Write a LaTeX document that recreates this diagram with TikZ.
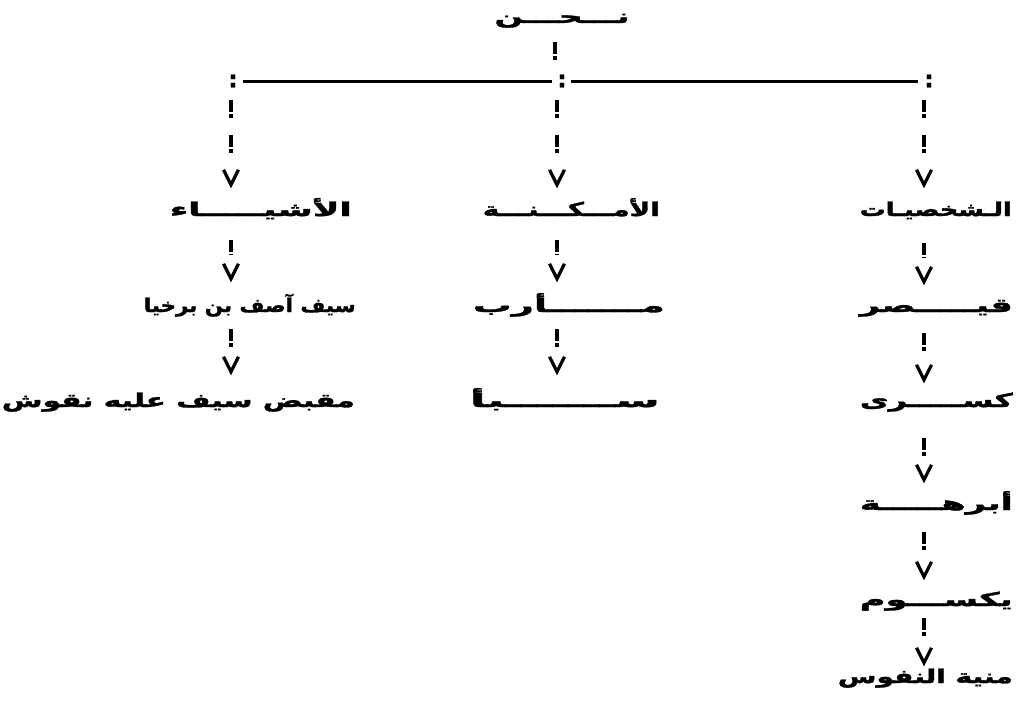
\documentclass[tikz,border=0pt]{standalone}
\usepackage{fontspec}
\usepackage{graphicx}
\usetikzlibrary{calc}
\TeXXeTstate=1
\newfontfamily\arabicfont[Script=Arabic, FakeBold=1.6]{DejaVu Sans Bold}
\newsavebox\arbox
% Arabic label stretched horizontally to a given width (in pt)
\newcommand\ar[2]{%
  \sbox\arbox{\arabicfont\beginR #2\endR}%
  \pgfmathsetmacro\arsx{#1/\wd\arbox}%
  \scalebox{\arsx}[1]{\usebox\arbox}}
% dashed stem below #1 and a V head above #2, on the column #3;
% #4 = gap below the source, #5 = gap between the V and the target
\newcommand\linkdown[5]{%
  \draw[bars, shorten <=#4pt, shorten >={#5pt+24pt}] (#1.south -| #3) -- (#2.north -| #3);
  \draw[vtip] ($(#2.north -| #3)+(-7.5,-#5-15)$) -- ($(#2.north -| #3)+(0,-#5)$) -- ($(#2.north -| #3)+(7.5,-#5-15)$);
}
\begin{document}
\begin{tikzpicture}[x=1pt,y=-1pt,
  lbl/.style={anchor=base east, inner sep=0pt, text height=13pt, text depth=3pt,
    font=\fontsize{19}{22}\selectfont},
  colon/.style={inner sep=0pt, font=\fontsize{23}{23}\selectfont\arabicfont},
  bars/.style={line width=3.4pt, dash pattern=on 12pt off 2pt on 3.5pt off 17.5pt},
  vtip/.style={line width=3.2pt, line join=miter, miter limit=6},
  hline/.style={line width=3pt}]
\useasboundingbox (0,0) rectangle (1035,712);

% column axes
\coordinate (xT) at (555,0);
\coordinate (xL) at (231,0);
\coordinate (xM) at (557,0);
\coordinate (xR) at (924,0);

% root and the branching bar
\node[lbl, anchor=base] (top) at (562,23) {\ar{135}{نـــحـــن}};
\node[colon] (cL) at (233,81) {:};
\node[colon] (cM) at (562,81) {:};
\node[colon] (cR) at (929,81) {:};
\draw[hline, shorten <=5pt, shorten >=5pt] (cL) -- (cM);
\draw[hline, shorten <=4pt, shorten >=6pt] (cM) -- (cR);
\draw[bars, shorten <=16pt] (top.south -| xT) -- (cM.north -| xT);

% first level
\node[lbl] (l1) at (352,216) {\ar{182}{الأشيـــــاء}};
\node[lbl] (m1) at (660,216) {\ar{177}{الأمـــكـــنـــة}};
\node[lbl] (r1) at (1012,216) {\ar{152}{الـشخصيـات}};

% things
\node[lbl] (l2) at (356,312) {\ar{212}{سيف  آصف بن برخيا}};
\node[lbl] (l3) at (355,407) {\ar{353}{مقبض سيف عليه  نقوش}};

% places
\node[lbl] (m2) at (665,312) {\ar{192}{مـــــــأرب}};
\node[lbl] (m3) at (660,407) {\ar{190}{ســـــــبأ}};

% characters
\node[lbl] (r2) at (1013,312) {\ar{153}{قيـــــصر}};
\node[lbl] (r3) at (1013,407) {\ar{153}{كســـــرى}};
\node[lbl] (r4) at (1013,510) {\ar{153}{أبرهـــــة}};
\node[lbl] (r5) at (1013,606) {\ar{153}{يكســـوم}};
\node[lbl] (r6) at (1013,683) {\ar{175}{منية النفوس}};

% connectors
\linkdown{cL}{l1}{xL}{13}{18}
\linkdown{cM}{m1}{xM}{13}{18}
\linkdown{cR}{r1}{xR}{13}{18}
\linkdown{l1}{l2}{xL}{21}{20}
\linkdown{l2}{l3}{xL}{14}{22}
\linkdown{m1}{m2}{xM}{21}{20}
\linkdown{m2}{m3}{xM}{14}{22}
\linkdown{r1}{r2}{xR}{24}{17}
\linkdown{r2}{r3}{xR}{18}{14}
\linkdown{r3}{r4}{xR}{28}{17}
\linkdown{r4}{r5}{xR}{19}{16}
\linkdown{r5}{r6}{xR}{9}{7}
\end{tikzpicture}
\end{document}
